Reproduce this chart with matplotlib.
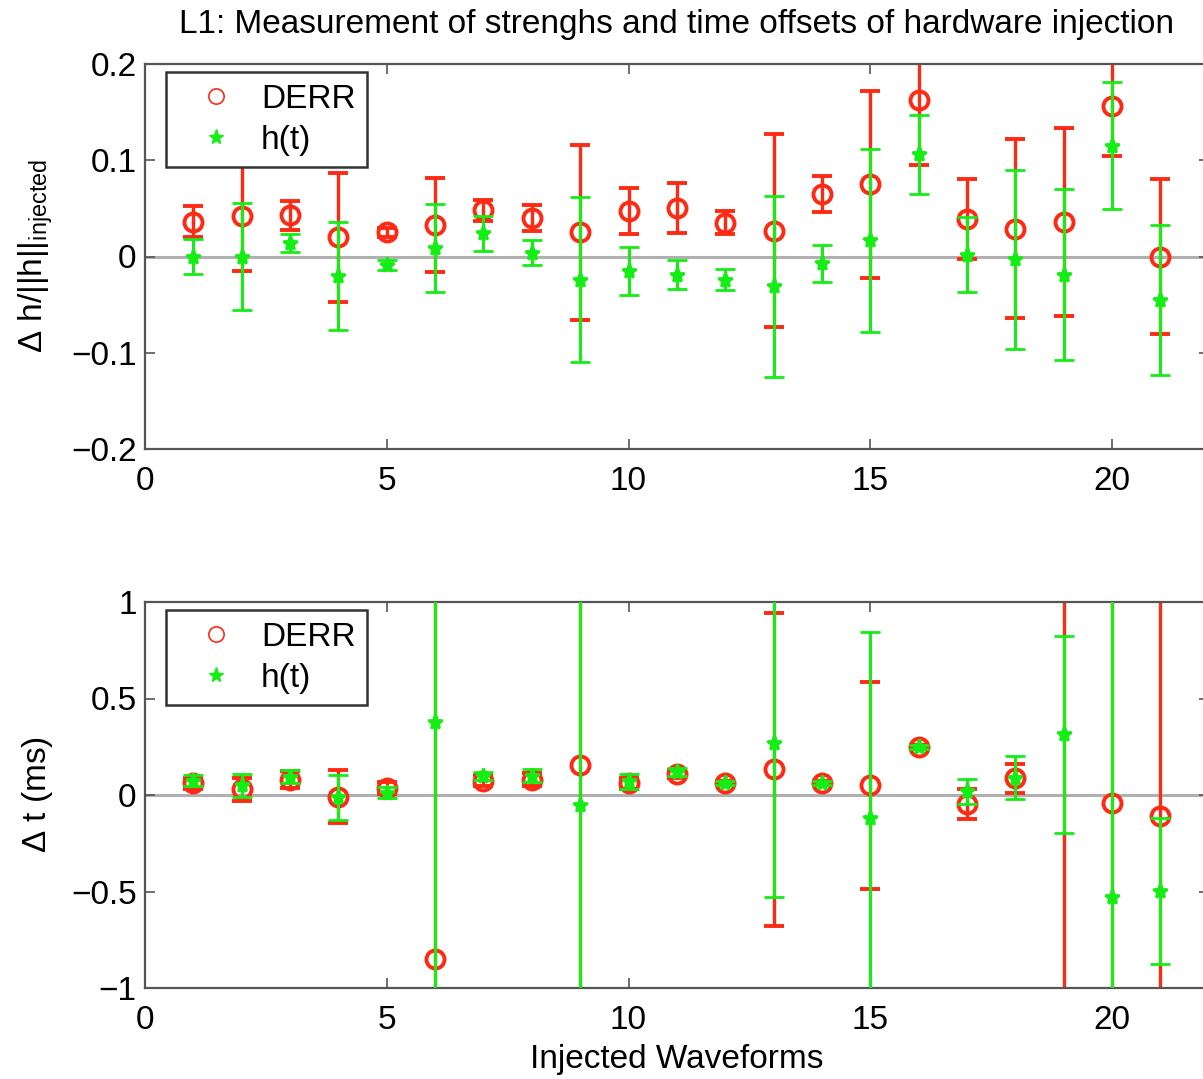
import matplotlib
matplotlib.use("Agg")
import matplotlib.pyplot as plt
from matplotlib.lines import Line2D

plt.rcParams['font.family'] = ['Liberation Sans', 'DejaVu Sans']
plt.rcParams['mathtext.fontset'] = 'custom'
plt.rcParams['mathtext.rm'] = 'Liberation Sans'
plt.rcParams['mathtext.it'] = 'Liberation Sans'

# ---- data ----
waveforms = list(range(1, 22))

derr_h = [0.036, 0.042, 0.043, 0.020, 0.025, 0.033, 0.048, 0.040, 0.025, 0.047, 0.050,
          0.035, 0.027, 0.065, 0.075, 0.163, 0.039, 0.029, 0.036, 0.156, 0.000]
derr_h_err = [0.016, 0.057, 0.015, 0.067, 0.005, 0.049, 0.011, 0.013, 0.091, 0.024, 0.026,
              0.012, 0.100, 0.019, 0.097, 0.068, 0.042, 0.093, 0.098, 0.052, 0.081]
ht_h = [0.000, 0.000, 0.014, -0.020, -0.009, 0.009, 0.024, 0.004, -0.024, -0.015, -0.019,
        -0.024, -0.031, -0.007, 0.017, 0.106, 0.002, -0.003, -0.019, 0.115, -0.045]
ht_h_err = [0.018, 0.056, 0.009, 0.056, 0.005, 0.046, 0.018, 0.013, 0.086, 0.025, 0.015,
            0.011, 0.094, 0.019, 0.095, 0.041, 0.039, 0.093, 0.089, 0.066, 0.078]

derr_t = [0.06, 0.03, 0.08, -0.01, 0.035, -0.85, 0.075, 0.08, 0.155, 0.06, 0.11,
          0.06, 0.133, 0.06, 0.05, 0.247, -0.048, 0.086, -1.4, -0.043, -0.107]
derr_t_err = [0.03, 0.06, 0.045, 0.137, 0.03, 3.0, 0.03, 0.035, 3.0, 0.03, 0.02,
              0.01, 0.81, 0.01, 0.536, 0.01, 0.078, 0.076, 3.0, 3.0, 3.0]
ht_t = [0.075, 0.05, 0.095, -0.012, 0.012, 0.379, 0.10, 0.10, -0.052, 0.07, 0.12,
        0.06, 0.27, 0.06, -0.117, 0.247, 0.02, 0.09, 0.314, -0.526, -0.497]
ht_t_err = [0.03, 0.06, 0.035, 0.118, 0.03, 3.0, 0.02, 0.035, 3.0, 0.04, 0.02,
            0.01, 0.80, 0.01, 0.96, 0.01, 0.065, 0.11, 0.51, 3.0, 0.38]

RED = '#ff2a14'
GREEN = '#14ee14'
FS = 24

fig = plt.figure(figsize=(12.03, 10.79), dpi=100)
L, R = 145 / 1203, 1208.7 / 1203
ax1 = fig.add_axes([L, 1 - 449 / 1079, R - L, (449 - 64) / 1079])
ax2 = fig.add_axes([L, 1 - 988 / 1079, R - L, (988 - 602) / 1079])


def panel(ax, d, de, h, he, ylim, yticks, yticklabels):
    ax.axhline(0, color='#b0b0b0', lw=2.2, zorder=1)
    ax.errorbar(waveforms, d, yerr=de, fmt='o', color=RED, mfc='none', mec=RED,
                ms=13, mew=2.8, elinewidth=2.4, capsize=7, capthick=2.8, zorder=2)
    ax.errorbar(waveforms, h, yerr=he, fmt='*', color=GREEN, mfc=GREEN, mec=GREEN,
                ms=11, mew=2.0, elinewidth=2.2, capsize=7, capthick=2.6, zorder=3)
    ax.set_xlim(0, 22)
    ax.set_ylim(*ylim)
    ax.set_xticks([0, 5, 10, 15, 20])
    ax.set_yticks(yticks)
    ax.set_yticklabels(yticklabels)
    ax.tick_params(direction='in', length=7, width=1.2, color='#555555',
                   labelsize=FS, top=True, right=True)
    ax.tick_params(axis='x', pad=12)
    ax.tick_params(axis='y', pad=6)
    for s in ax.spines.values():
        s.set_color('#555555')
        s.set_linewidth(1.6)
    handles = [Line2D([], [], ls='none', marker='o', mfc='none', mec=RED, ms=11, mew=1.2),
               Line2D([], [], ls='none', marker='*', color=GREEN, ms=11, mew=1)]
    leg = ax.legend(handles, ['DERR', 'h(t)'], loc='upper left',
                    bbox_to_anchor=(0.0197, 0.979), fontsize=FS, frameon=True,
                    fancybox=False, edgecolor='#333333', handletextpad=0.2,
                    handlelength=2.3, borderpad=0.35, labelspacing=0.3,
                    borderaxespad=0, framealpha=1.0)
    leg.get_frame().set_linewidth(1.8)
    leg.set_zorder(10)


panel(ax1, derr_h, derr_h_err, ht_h, ht_h_err, (-0.2, 0.2),
      [-0.2, -0.1, 0, 0.1, 0.2], ['\u22120.2', '\u22120.1', '0', '0.1', '0.2'])
panel(ax2, derr_t, derr_t_err, ht_t, ht_t_err, (-1, 1),
      [-1, -0.5, 0, 0.5, 1], ['\u22121', '\u22120.5', '0', '0.5', '1'])

ax1.set_title('L1: Measurement of strenghs and time offsets of hardware injection',
              fontsize=FS, pad=22)
ax1.set_ylabel(r'$\Delta$ h/||h||$_{\mathregular{injected}}$', fontsize=FS)
ax2.set_ylabel(r'$\Delta$ t (ms)', fontsize=FS)
ax2.set_xlabel('Injected Waveforms', fontsize=FS, labelpad=6)
ax1.yaxis.set_label_coords(-0.085, 0.5)
ax2.yaxis.set_label_coords(-0.085, 0.5)

fig.savefig('out.png', dpi=100)
